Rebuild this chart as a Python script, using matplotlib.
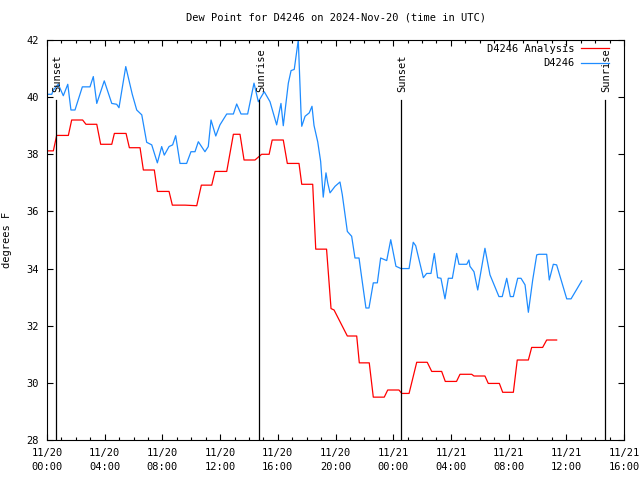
import numpy as np
import matplotlib
matplotlib.use("Agg")
import matplotlib.pyplot as plt
from matplotlib.ticker import MultipleLocator

plt.rcParams['font.family'] = ['DejaVu Sans Mono']
plt.rcParams['font.size'] = 7.5

# hours since 2024-11-20 00:00 UTC
analysis_t = [0.0, 0.44, 0.67, 1.48, 1.71, 2.47, 2.70, 3.45, 3.72, 4.49, 4.67, 5.48,
              5.71, 6.45, 6.68, 7.44, 7.65, 8.46, 8.69, 9.57, 10.38, 10.70, 11.42, 11.65,
              12.46, 12.92, 13.38, 13.66, 14.42, 14.88, 15.40, 15.61, 16.38, 16.66, 17.47,
              17.66, 18.42, 18.63, 19.38, 19.69, 19.90, 20.82, 21.47, 21.65, 22.34, 22.62,
              23.38, 23.62, 24.40, 24.59, 25.10, 25.63, 26.36, 26.67, 27.36, 27.61, 28.39,
              28.63, 29.44, 29.60, 30.36, 30.59, 31.36, 31.59, 32.33, 32.60, 33.37, 33.60,
              34.36, 34.64, 35.33]
analysis_v = [38.12, 38.12, 38.66, 38.66, 39.2, 39.2, 39.05, 39.05, 38.35, 38.35, 38.73, 38.73,
              38.23, 38.23, 37.45, 37.45, 36.7, 36.7, 36.22, 36.22, 36.2, 36.92, 36.92, 37.4,
              37.4, 38.7, 38.7, 37.8, 37.8, 38.0, 38.0, 38.5, 38.5, 37.68, 37.68,
              36.95, 36.95, 34.68, 34.68, 32.6, 32.55, 31.64, 31.64, 30.7, 30.7, 29.5,
              29.5, 29.75, 29.75, 29.63, 29.63, 30.72, 30.72, 30.4, 30.4, 30.05, 30.05,
              30.3, 30.3, 30.24, 30.24, 29.98, 29.98, 29.67, 29.67, 30.8, 30.8, 31.24,
              31.24, 31.5, 31.5]

obs_t = [0.0, 0.33, 0.44, 0.78, 1.13, 1.44, 1.66, 1.94, 2.45, 2.98, 3.21, 3.45, 3.97, 4.49,
         4.83, 4.99, 5.46, 5.91, 6.22, 6.57, 6.91, 7.26, 7.65, 7.95, 8.13, 8.46, 8.71, 8.92,
         9.22, 9.68, 9.98, 10.26, 10.49, 10.95, 11.18, 11.37, 11.70, 11.99, 12.46, 12.92,
         13.15, 13.45, 13.91, 14.35, 14.65, 15.06, 15.46, 15.92, 16.22, 16.38, 16.73, 16.92,
         17.14, 17.42, 17.61, 17.66, 17.89, 18.18, 18.37, 18.51, 18.77, 18.97, 19.15, 19.34,
         19.46, 19.62, 19.97, 20.31, 20.47, 20.82, 21.12, 21.35, 21.63, 21.82, 22.11, 22.32,
         22.62, 22.90, 23.13, 23.55, 23.83, 24.19, 24.54, 25.10, 25.39, 25.56, 26.09, 26.32,
         26.62, 26.85, 27.08, 27.31, 27.59, 27.82, 28.10, 28.40, 28.56, 29.10, 29.25, 29.32,
         29.60, 29.86, 30.36, 30.71, 31.33, 31.56, 31.87, 32.12, 32.33, 32.63, 32.86, 33.14,
         33.37, 33.67, 33.95, 34.11, 34.64, 34.82, 35.10, 35.33, 36.03, 36.33, 37.07]
obs_v = [40.1, 40.1, 40.25, 40.45, 40.05, 40.45, 39.55, 39.55, 40.36, 40.36, 40.72, 39.78,
         40.57, 39.78, 39.75, 39.63, 41.07, 40.1, 39.55, 39.38, 38.42, 38.33, 37.7, 38.27,
         37.97, 38.27, 38.33, 38.65, 37.68, 37.68, 38.09, 38.09, 38.44, 38.09, 38.27, 39.2,
         38.64, 39.03, 39.41, 39.41, 39.76, 39.41, 39.41, 40.49, 39.84, 40.19, 39.84, 39.03,
         39.78, 39.0, 40.49, 40.93, 40.97, 42.0, 39.45, 38.98, 39.33, 39.45, 39.68, 39.01,
         38.43, 37.75, 36.5, 37.35, 37.0, 36.65, 36.88, 37.03, 36.59, 35.3, 35.13, 34.37,
         34.37, 33.67, 32.62, 32.62, 33.5, 33.5, 34.37, 34.28, 35.01, 34.08, 34.0, 34.0,
         34.92, 34.8, 33.68, 33.83, 33.83, 34.53, 33.68, 33.66, 32.94, 33.66, 33.66, 34.53,
         34.15, 34.15, 34.3, 34.08, 33.89, 33.25, 34.71, 33.78, 33.02, 33.02, 33.66, 33.02,
         33.02, 33.66, 33.66, 33.43, 32.47, 33.6, 34.48, 34.5, 34.5, 33.6, 34.15, 34.13,
         32.94, 32.94, 33.57]

sun_t = [0.62, 14.72, 24.55, 38.7]
sun_lbl = ["Sunset", "Sunrise", "Sunset", "Sunrise"]

tick_t = [0, 4, 8, 12, 16, 20, 24, 28, 32, 36, 40]
tick_lbl = ["11/20\n00:00", "11/20\n04:00", "11/20\n08:00", "11/20\n12:00",
            "11/20\n16:00", "11/20\n20:00", "11/21\n00:00", "11/21\n04:00",
            "11/21\n08:00", "11/21\n12:00", "11/21\n16:00"]

fig = plt.figure(figsize=(6.4, 4.8), dpi=100)
ax = fig.add_axes([47/640, 40/480, 577/640, 400/480])

ax.plot(analysis_t, analysis_v, color='#ff0000', lw=0.9, label='D4246 Analysis')
ax.plot(obs_t, obs_v, color='#1e8cff', lw=0.9, label='D4246')

for t, s in zip(sun_t, sun_lbl):
    ax.plot([t, t], [0, 0.85], color='black', lw=0.9, transform=ax.get_xaxis_transform())
    ax.text(t + 0.1, 0.87, s, rotation=90, ha='center', va='bottom',
            transform=ax.get_xaxis_transform())

ax.set_xlim(0, 40)
ax.set_ylim(28, 42)
ax.set_xticks(tick_t)
ax.set_xticklabels(tick_lbl, linespacing=1.5)
ax.xaxis.set_minor_locator(MultipleLocator(1))
ax.yaxis.set_major_locator(MultipleLocator(2))
ax.tick_params(which='both', direction='in', top=True, right=True, width=0.8)
ax.tick_params(which='major', length=4, pad=6)
ax.tick_params(which='minor', length=2)

ax.set_ylabel('degrees F', labelpad=10)
ax.set_title('Dew Point for D4246 on 2024-Nov-20 (time in UTC)', fontsize=7.5, pad=14)

ax.legend(loc='upper right', bbox_to_anchor=(0.974, 0.99), frameon=False,
          markerfirst=False, handlelength=2.7, handletextpad=0.6, labelspacing=0.4,
          borderaxespad=0, borderpad=0)

fig.savefig('out.png', dpi=100)
